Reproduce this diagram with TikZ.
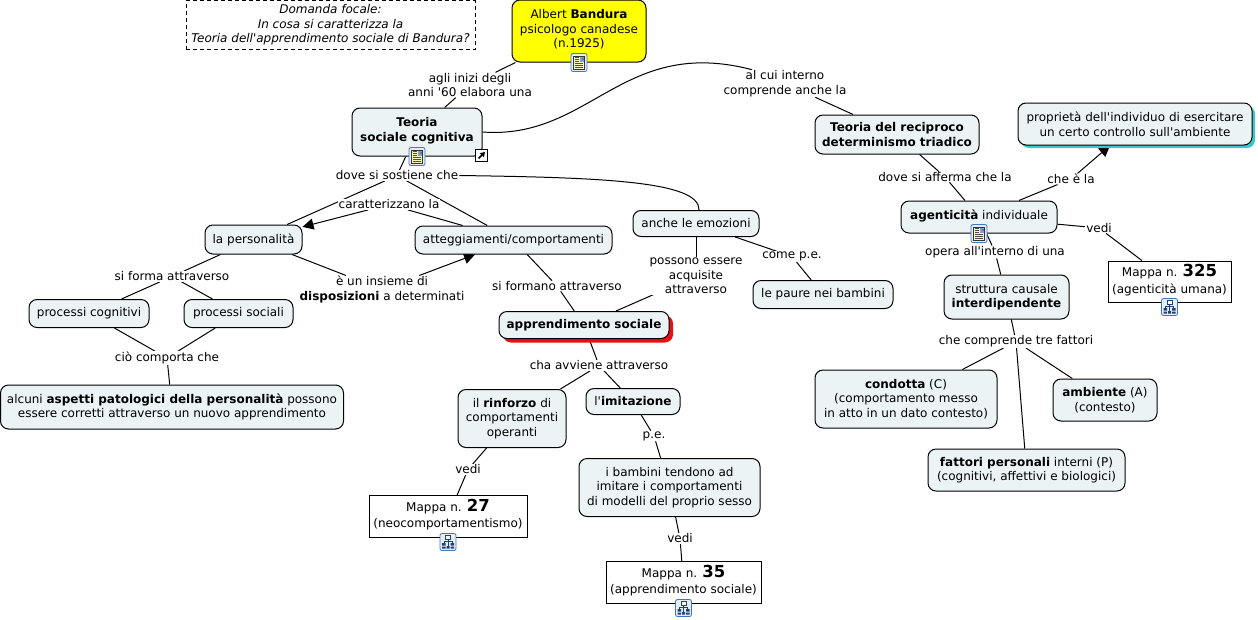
\documentclass[tikz,border=0pt]{standalone}
\usepackage{xcolor}
\usepackage{fontspec}
\usepackage{tikz}
\usetikzlibrary{arrows.meta, positioning, backgrounds, shadows}
\setmainfont{DejaVu Sans}[Ligatures=TeXOff]
\definecolor{BoxFill}{HTML}{ECF3F5}
\definecolor{RootYellow}{HTML}{FFFF00}
\definecolor{ShadowTeal}{HTML}{3CC8C8}
\definecolor{ShadowRed}{HTML}{E81010}
\definecolor{IconBlue}{HTML}{3C78C8}
\definecolor{IconFill}{HTML}{E6EEF9}
\definecolor{IconPage}{HTML}{FBF4BC}
\definecolor{IconNavy}{HTML}{1F3F80}
\definecolor{IconPhoto}{HTML}{7FA3D0}
\newcommand{\iconpad}{\rule[-5pt]{0pt}{0pt}}
\newcommand{\mappad}{\rule[-6pt]{0pt}{0pt}}
\newcommand{\mapnum}[1]{{\fontsize{16.5}{15.5}\selectfont\textbf{#1}}}

\tikzset{
  docicon/.pic={
    \draw[IconBlue, fill=IconFill, rounded corners=2pt, line width=0.8pt] (-8,-9) rectangle (8,9);
    \draw[black!80, fill=IconPage, line width=0.6pt] (-5.5,-6.5) rectangle (5.5,6.5);
    \fill[IconPhoto] (0.5,0.5) rectangle (5,6);
    \fill[IconNavy!70] (2.5,2.5) rectangle (4.5,5);
    \foreach \ypos in {-5,-3,-1} {\draw[black!70, line width=0.5pt] (-4,\ypos) -- (4,\ypos);}
    \foreach \ypos in {1,3,5} {\draw[black!70, line width=0.5pt] (-4,\ypos) -- (-0.5,\ypos);}
  },
  mapicon/.pic={
    \draw[IconBlue, fill=IconFill, rounded corners=2pt, line width=0.8pt] (-8,-8.5) rectangle (8,8.5);
    \draw[IconNavy, line width=0.5pt] (0,3) -- (0,1) (-4,-1.5) -- (-4,1) -- (4,1) -- (4,-1.5) (0,1) -- (0,-4);
    \draw[IconNavy, fill=white, line width=0.6pt] (-2.5,3) rectangle (2.5,6.5);
    \fill[IconNavy] (-6,-1) rectangle (-2.5,-3.5) (2.5,-1) rectangle (6,-3.5);
    \fill[IconNavy] (-6,-4.5) rectangle (-2.5,-6.5) (2.5,-4.5) rectangle (6,-6.5) (-1.5,-4) rectangle (1.5,-6.5);
  },
  linkicon/.pic={
    \draw[black, fill=white, line width=1pt] (-6,-6) rectangle (6,6);
    \draw[black, line width=1.6pt, -{Triangle[length=4.5pt,width=5.5pt]}] (-3,-3) -- (3.5,3.5);
  },
}

\begin{document}
\begin{tikzpicture}[
  x=1pt, y=1pt,
  on grid,
  every node/.style={font=\fontsize{12}{14.6}\selectfont, align=center, text=black},
  box/.style={rectangle, rounded corners=8pt, draw=black, fill=BoxFill, line width=1pt, inner sep=1pt},
  mapbox/.style={rectangle, draw=black, fill=white, line width=1pt, inner sep=1pt},
  lnk/.style={rectangle, fill=white, inner xsep=1pt, inner ysep=0.5pt},
  conn/.style={black, line width=1pt},
  arr/.style={-{Triangle[length=11pt,width=11pt]}, black, line width=1pt},
]
\useasboundingbox (0,0) rectangle (1258,-619);

% top of the map
\node[box, fill=RootYellow, minimum width=134pt, minimum height=62pt] (bandura) at (579,-31)
  {Albert \textbf{Bandura}\\psicologo canadese\\(n.1925)\iconpad};
\node[mapbox, dash pattern=on 4pt off 3pt, minimum width=289pt, minimum height=49pt, below right=-6pt and -248.5pt of bandura] (focal)
  {\itshape Domanda focale:\\\itshape In cosa si caratterizza la\\\itshape Teoria dell'apprendimento sociale di Bandura?};
\node[lnk, below right=54pt and -109pt of bandura] (agli) {agli inizi degli\\anni '60 elabora una};
\node[box, minimum width=130pt, minimum height=48pt, below right=47pt and -53pt of agli] (teoria)
  {\textbf{Teoria}\\\textbf{sociale cognitiva}\iconpad};
\node[lnk, below right=43.5pt and -20pt of teoria] (dove) {dove si sostiene che};

% left branch
\node[box, minimum width=97pt, minimum height=29pt, below right=64pt and -143.5pt of dove] (personalita) {la personalità};
\node[box, minimum width=197pt, minimum height=28pt, below right=64.5pt and 116.5pt of dove] (attegg) {atteggiamenti/comportamenti};
\node[lnk, below right=29pt and -8pt of dove] (caratter) {caratterizzano la};
\node[lnk, below right=37pt and -81.5pt of personalita] (siforma) {si forma attraverso};
\node[lnk, below right=50pt and 128.5pt of personalita] (insieme) {è un insieme di\\\textbf{disposizioni} a determinati};
\node[box, minimum width=120pt, minimum height=28pt, below right=37pt and -83pt of siforma] (cognitivi) {processi cognitivi};
\node[box, minimum width=109pt, minimum height=28pt, below right=37pt and 66.5pt of siforma] (sociali) {processi sociali};
\node[lnk, below right=44.5pt and 78pt of cognitivi] (ciocomporta) {ciò comporta che};
\node[box, minimum width=343pt, minimum height=44pt, below right=49pt and 5pt of ciocomporta] (alcuni)
  {alcuni \textbf{aspetti patologici della personalità} possono\\essere corretti attraverso un nuovo apprendimento};

% middle branch
\node[box, minimum width=126pt, minimum height=26pt, below right=48pt and 299pt of dove] (emozioni) {anche le emozioni};
\node[lnk, below right=33pt and 96pt of emozioni] (come) {come p.e.};
\node[box, minimum width=140pt, minimum height=28pt, below right=38pt and 31pt of come] (paure) {le paure nei bambini};
\node[lnk, below=52.5pt of emozioni] (possono) {possono essere\\acquisite\\attraverso};
\node[lnk, below right=46pt and 43.5pt of attegg] (formano) {si formano attraverso};
\node[box, drop shadow={shadow xshift=4pt, shadow yshift=-4pt, fill=ShadowRed, opacity=1},
      minimum width=170pt, minimum height=27pt, below right=49pt and -112pt of possono] (apprend)
  {\textbf{apprendimento sociale}};
\node[lnk, below right=40.5pt and 15pt of apprend] (cha) {cha avviene attraverso};
\node[box, minimum width=108pt, minimum height=58pt, below right=53pt and -87pt of cha] (rinforzo)
  {il \textbf{rinforzo} di\\comportamenti\\operanti};
\node[box, minimum width=94pt, minimum height=26pt, below right=36pt and 34pt of cha] (imitazione) {l'\textbf{imitazione}};
\node[lnk, below right=51pt and -44pt of rinforzo] (vedi27) {vedi};
\node[mapbox, minimum width=158pt, minimum height=42pt, below right=47pt and -20pt of vedi27] (mappa27)
  {Mappa n. \mapnum{27}\\[1.5pt](neocomportamentismo)\mappad};
\node[lnk, below right=34.5pt and 21pt of imitazione] (pe) {p.e.};
\node[box, minimum width=181pt, minimum height=58pt, below right=51.5pt and 15.5pt of pe] (bambini)
  {i bambini tendono ad\\imitare i comportamenti\\di modelli del proprio sesso};
\node[lnk, below right=51pt and 10.5pt of bambini] (vedi35) {vedi};
\node[mapbox, minimum width=155pt, minimum height=42pt, below right=44pt and 3.5pt of vedi35] (mappa35)
  {Mappa n. \mapnum{35}\\[1.5pt](apprendimento sociale)\mappad};

% right branch
\node[lnk, below right=52.5pt and 206pt of bandura] (alcui) {al cui interno\\comprende anche la};
\node[box, minimum width=164pt, minimum height=39pt, below right=51pt and 112pt of alcui] (reciproco)
  {\textbf{Teoria del reciproco}\\\textbf{determinismo triadico}};
\node[lnk, below right=42.5pt and 48pt of reciproco] (afferma) {dove si afferma che la};
\node[box, minimum width=156pt, minimum height=32pt, below right=40pt and 34pt of afferma] (agenticita)
  {\textbf{agenticità} individuale\iconpad};
\node[lnk, below right=-38pt and 92pt of agenticita] (cheela) {che è la};
\node[box, drop shadow={shadow xshift=3pt, shadow yshift=-3pt, fill=ShadowTeal, opacity=1},
      minimum width=234pt, minimum height=42pt, below right=-55pt and 64pt of cheela] (proprieta)
  {proprietà dell'individuo di esercitare\\un certo controllo sull'ambiente};
\node[lnk, below right=11pt and 120pt of agenticita] (vedi325) {vedi};
\node[mapbox, minimum width=123pt, minimum height=41pt, below right=53.5pt and 70.5pt of vedi325] (mappa325)
  {Mappa n. \mapnum{325}\\[2pt](agenticità umana)\iconpad};
\node[lnk, below right=35pt and 16pt of agenticita] (opera) {opera all'interno di una};
\node[box, minimum width=125pt, minimum height=44pt, below right=45pt and 11.5pt of opera] (struttura)
  {struttura causale\\\textbf{interdipendente}};
\node[lnk, below right=44.5pt and 9.5pt of struttura] (comprende) {che comprende tre fattori};
\node[box, minimum width=182pt, minimum height=58pt, below right=57.5pt and -110pt of comprende] (condotta)
  {\textbf{condotta} (C)\\(comportamento messo\\in atto in un dato contesto)};
\node[box, minimum width=104pt, minimum height=42pt, below right=58.5pt and 89pt of comprende] (ambiente)
  {\textbf{ambiente} (A)\\(contesto)};
\node[box, minimum width=197pt, minimum height=42pt, below right=128.5pt and 10.5pt of comprende] (fattori)
  {\textbf{fattori personali} interni (P)\\(cognitivi, affettivi e biologici)};

% icons
\pic at (bandura.south) {docicon};
\pic at (teoria.south) {docicon};
\pic at (agenticita.south) {docicon};
\pic at ([yshift=-4pt]mappa27.south) {mapicon};
\pic at ([yshift=-4pt]mappa35.south) {mapicon};
\pic at ([yshift=-4.5pt]mappa325.south) {mapicon};
\pic at ([xshift=-1pt,yshift=1pt]teoria.south east) {linkicon};

\begin{scope}[on background layer]
\draw[conn] (bandura) -- (agli);
\draw[conn] (agli) -- (teoria);
\draw[conn] (teoria) -- (dove);
\draw[conn] (dove) -- (personalita);
\draw[conn] (dove) -- (attegg);
\draw[conn] (dove.east) .. controls +(141,-2) and +(1,29) .. ([xshift=3pt]emozioni.north);
\draw[conn] (attegg) -- (caratter);
\draw[arr] (caratter) -- (personalita);
\draw[conn] (personalita) -- (siforma);
\draw[conn] (siforma) -- (cognitivi);
\draw[conn] (siforma) -- (sociali);
\draw[conn] (cognitivi) -- (ciocomporta);
\draw[conn] (sociali) -- (ciocomporta);
\draw[conn] (ciocomporta) -- (alcuni);
\draw[conn] (personalita) -- (insieme);
\draw[arr] (insieme) -- (attegg);
\draw[conn] (attegg) -- (formano);
\draw[conn] (formano) -- (apprend);
\draw[conn] (emozioni) -- (come);
\draw[conn] (come) -- (paure);
\draw[conn] (emozioni) -- (possono);
\draw[conn] (possono) -- (apprend);
\draw[conn] (apprend) -- (cha);
\draw[conn] (cha) -- (rinforzo);
\draw[conn] (cha) -- (imitazione);
\draw[conn] (rinforzo) -- (vedi27);
\draw[conn] (vedi27) -- (mappa27);
\draw[conn] (imitazione) -- (pe);
\draw[conn] (pe) -- (bambini);
\draw[conn] (bambini) -- (vedi35);
\draw[conn] (vedi35) -- (mappa35);
\draw[conn] (teoria.east) .. controls +(108,-8) and +(-130,34) .. ([xshift=-33pt]alcui.north);
\draw[conn] (alcui) -- (reciproco);
\draw[conn] (reciproco) -- (afferma);
\draw[conn] (afferma) -- (agenticita);
\draw[conn] (agenticita) -- (cheela);
\draw[arr] (cheela) -- (proprieta);
\draw[conn] (agenticita) -- (vedi325);
\draw[conn] (vedi325) -- (mappa325);
\draw[conn] (agenticita) -- (opera);
\draw[conn] (opera) -- (struttura);
\draw[conn] (struttura) -- (comprende);
\draw[conn] (comprende) -- (condotta);
\draw[conn] (comprende) -- (ambiente);
\draw[conn] (comprende) -- (fattori);
\end{scope}
\end{tikzpicture}
\end{document}
